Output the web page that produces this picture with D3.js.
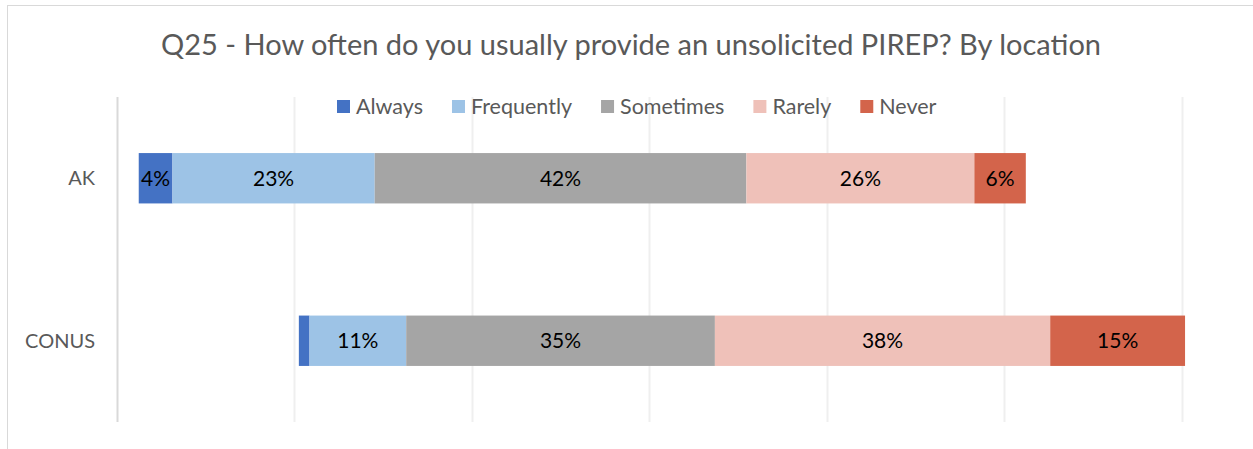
<!DOCTYPE html>
<html lang="en">
  <head>
    <meta charset="utf-8">
    <title>Q25 PIREP by location</title>
    <style>
      body { margin: 0; background: #fff; }
      svg { font-family: Lato, "Liberation Sans", sans-serif; }
    </style>
  </head>
  <body>
    <svg></svg>
    <script src="https://d3js.org/d3.v7.min.js"></script>
    <script>
      // size of the picture
      var svgWidth = 1253;
      var svgHeight = 449;

      // data (percent of answers per location)
      var categories = ['AK', 'CONUS'];
      var seriesNames = ['Always', 'Frequently', 'Sometimes', 'Rarely', 'Never'];
      var always = [3.8, 1.2];
      var frequently = [22.8, 10.9];
      var sometimes = [41.9, 34.8];
      var rarely = [25.7, 37.8];
      var never = [5.8, 15.2];
      var gridTicks = [-50, -30, -10, 10, 30, 50, 70];

      var colors = ['#4472C4', '#9DC3E6', '#A5A5A5', '#EFC1B9', '#D3644B'];
      var seriesValues = [always, frequently, sometimes, rarely, never];

      var svg = d3.select('svg')
          .attr('width', svgWidth)
          .attr('height', svgHeight);

      // chart frame (only left and top show in the crop)
      svg.append('rect')
          .attr('x', 7.5).attr('y', 5.5)
          .attr('width', 1400).attr('height', 600)
          .attr('fill', 'none')
          .attr('stroke', '#d9d9d9');

      var plotTop = 97, plotBottom = 422;

      // diverging scale: "Sometimes" is centred on zero
      var x = d3.scaleLinear().domain([-50, 70]).range([117, 1181.5]);
      var y = d3.scaleBand().domain(categories)
          .range([plotTop, plotBottom])
          .paddingInner(0.69).paddingOuter(0.345);

      // gridlines
      svg.append('g')
          .selectAll('line')
          .data(gridTicks)
          .enter()
          .append('line')
          .attr('x1', function(d) { return Math.round(x(d)) + 0.5; })
          .attr('x2', function(d) { return Math.round(x(d)) + 0.5; })
          .attr('y1', plotTop)
          .attr('y2', plotBottom)
          .attr('stroke', function(d, i) { return i === 0 ? '#d9d9d9' : '#efefef'; })
          .attr('stroke-width', 2);

      // build segments for each category
      var segments = [];
      categories.forEach(function(cat, ci) {
        var start = -(seriesValues[0][ci] + seriesValues[1][ci] + seriesValues[2][ci] / 2);
        seriesValues.forEach(function(vals, si) {
          segments.push({ cat: cat, series: si, x0: start, x1: start + vals[ci], value: vals[ci] });
          start += vals[ci];
        });
      });

      svg.append('g')
          .selectAll('rect')
          .data(segments)
          .enter()
          .append('rect')
          .attr('x', function(d) { return x(d.x0); })
          .attr('width', function(d) { return x(d.x1) - x(d.x0); })
          .attr('y', function(d) { return y(d.cat); })
          .attr('height', y.bandwidth())
          .attr('fill', function(d) { return colors[d.series]; });

      // data labels (tiny segments get none)
      svg.append('g')
          .selectAll('text')
          .data(segments.filter(function(d) { return d.value >= 2; }))
          .enter()
          .append('text')
          .attr('x', function(d) { return (x(d.x0) + x(d.x1)) / 2; })
          .attr('y', function(d) { return y(d.cat) + y.bandwidth() / 2; })
          .attr('dy', '0.36em')
          .attr('text-anchor', 'middle')
          .attr('font-size', 21)
          .attr('fill', '#000')
          .text(function(d) { return Math.round(d.value) + '%'; });

      // category labels
      svg.append('g')
          .selectAll('text')
          .data(categories)
          .enter()
          .append('text')
          .attr('x', 95)
          .attr('y', function(d) { return y(d) + y.bandwidth() / 2; })
          .attr('dy', '0.36em')
          .attr('text-anchor', 'end')
          .attr('font-size', 20)
          .attr('fill', '#595959')
          .text(function(d) { return d; });

      // title
      svg.append('text')
          .attr('x', 631)
          .attr('y', 55)
          .attr('text-anchor', 'middle')
          .attr('font-size', 29)
          .attr('fill', '#595959')
          .text('Q25 - How often do you usually provide an unsolicited PIREP? By location');

      // legend, laid out from measured text widths
      var legend = svg.append('g');
      var lx = 337;
      seriesNames.forEach(function(name, i) {
        legend.append('rect')
            .attr('x', lx).attr('y', 100)
            .attr('width', 13).attr('height', 13)
            .attr('fill', colors[i]);
        var t = legend.append('text')
            .attr('x', lx + 19)
            .attr('y', 106.5)
            .attr('dy', '0.36em')
            .attr('font-size', 21.5)
            .attr('fill', '#595959')
            .text(name);
        lx += 19 + t.node().getComputedTextLength() + 29;
      });
    </script>
  </body>
</html>
